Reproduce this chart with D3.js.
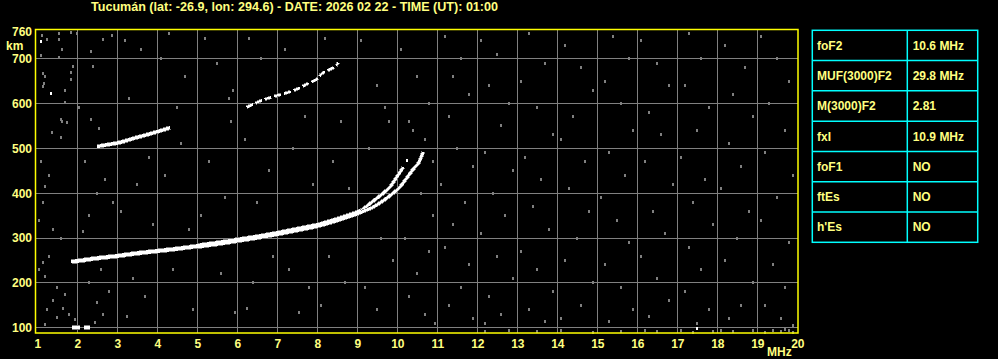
<!DOCTYPE html>
<html>
<head>
<meta charset="utf-8">
<script src="https://cdn.jsdelivr.net/npm/d3@7"></script>
<style>
  body { margin: 0; background: #000; }
  svg { display: block; font-family: "Liberation Sans", Arial, sans-serif; font-weight: bold; }
</style>
</head>
<body>
<svg id="chart" width="998" height="359"></svg>
<script>
// ---- data ----
var title = "Tucumán (lat: -26.9, lon: 294.6) - DATE: 2026 02 22 - TIME (UT): 01:00";
var freqTicks = d3.range(1, 21);
var heightTicks = [100, 200, 300, 400, 500, 600, 700, 760];

var paramNames = ["foF2", "MUF(3000)F2", "M(3000)F2", "fxI", "foF1", "ftEs", "h'Es"];
var paramValues = ["10.6 MHz", "29.8 MHz", "2.81", "10.9 MHz", "NO", "NO", "NO"];

// [MHz, km]
var traceFlow = [[1.85,246],[2.1,249],[2.5,254],[3.0,259],[3.5,265],[4.0,270],[4.5,275],[5.0,281]];
var traceF = [[5.0,281],[5.5,287],[6.0,294],[6.5,301],[7.0,309],[7.5,318],[8.0,327],[8.5,340],
  [9.0,355],[9.2,363]];
var traceA = [[9.1,360],[9.32,376],[9.65,399],[9.82,413],[9.97,433],[10.15,457]];
var traceB = [[9.1,357],[9.4,368],[9.94,402],[10.07,413],[10.27,437],[10.44,457],[10.53,466],[10.65,491]];
var trace2Fa = [[2.49,503],[2.82,508],[3.07,512],[3.4,521],[3.73,529],[4.15,540],[4.32,545]];
var trace2Fb = [[6.23,590],[6.44,599],[6.65,607],[6.9,614],[7.32,625],[7.57,634],[7.78,644],
  [7.99,653],[8.11,665],[8.44,681],[8.53,690]];
var traceE1 = [[1.87,100],[2.07,100]];
var traceE2 = [[2.17,100],[2.32,100]];

var brightDots = [[1.08,739],[1.33,622],[17.49,98],[10.25,473]];

var noise = [
  [1.11,752],[1.23,743],[1.55,755],[1.55,743],[1.63,720],[1.84,759],[1.08,707],[1.55,702],[1.89,683],
  [1.13,666],[1.18,660],[1.84,670],[1.84,653],[1.17,644],[1.13,638],[1.68,629],[1.68,603],[1.59,564],
  [1.63,560],[1.73,557],[1.38,536],[1.59,524],[1.1,470],[1.3,440],[1.2,415],[1.15,380],[1.05,340],
  [1.4,320],[1.6,300],[1.3,260],[1.15,245],[1.05,230],[1.2,215],[1.5,190],[1.7,175],[1.4,160],
  [1.25,140],[1.8,130],[1.49,123],[1.2,107],[1.64,143],[1.95,118],
  [2.0,756],[2.05,590],[2.33,716],[2.65,743],[2.88,752],[2.38,683],[2.33,564],[2.54,545],[2.2,470],
  [2.7,430],[2.5,400],[2.9,380],[2.3,350],[2.15,315],[2.6,230],[2.3,200],[2.8,180],[2.49,156],
  [2.64,130],[2.45,111],
  [3.2,740],[3.6,720],[3.3,610],[3.8,480],[3.5,420],[3.1,360],[3.9,330],[3.4,210],[3.7,170],[3.25,125],
  [4.3,755],[4.1,700],[4.7,660],[4.5,590],[4.6,510],[4.2,440],[4.8,320],[4.4,230],[4.9,140],
  [5.2,745],[5.5,690],[5.9,630],[5.8,610],[5.85,560],[5.3,470],[5.7,390],[5.1,350],[5.6,220],[5.95,133],
  [6.3,745],[6.6,700],[6.2,520],[6.8,450],[6.5,380],[6.9,260],[6.4,200],[6.25,143],
  [7.2,720],[7.7,570],[7.4,500],[7.9,420],[7.3,230],[7.53,133],[7.8,190],
  [8.2,745],[8.6,560],[8.4,470],[8.8,410],[8.3,260],[8.7,200],[8.1,150],
  [9.1,740],[9.5,640],[9.7,590],[9.8,560],[9.3,500],[9.6,300],[9.9,250],[9.2,190],[9.5,140],
  [10.1,720],[10.5,660],[10.8,600],[10.3,560],[10.4,540],[10.7,520],[10.9,470],[10.6,400],[10.9,350],
  [10.2,300],[10.8,270],[10.5,220],[10.3,170],[10.7,130],[10.95,110],
  [11.2,750],[11.6,700],[11.4,660],[11.8,620],[11.3,570],[11.5,500],[11.9,460],[11.1,420],[11.7,380],
  [11.4,330],[11.2,280],[11.8,240],[11.6,190],[11.3,150],[11.9,120],
  [12.1,740],[12.5,710],[12.3,640],[12.8,600],[12.6,550],[12.2,490],[12.9,450],[12.4,400],[12.7,350],
  [12.1,310],[12.5,260],[12.9,210],[12.3,170],[12.6,130],[12.2,110],
  [13.3,755],[13.7,690],[13.1,650],[13.5,590],[13.9,530],[13.2,480],[13.6,430],[13.4,370],[13.8,320],
  [13.1,270],[13.5,230],[13.9,180],[13.3,140],[13.7,115],
  [14.2,730],[14.6,680],[14.9,630],[14.4,570],[14.1,520],[14.7,470],[14.3,410],[14.8,360],[14.5,300],
  [14.2,250],[14.9,200],[14.6,150],[14.1,120],
  [15.4,750],[15.8,700],[15.2,650],[15.6,600],[15.9,540],[15.3,490],[15.7,440],[15.1,390],[15.5,340],
  [15.8,290],[15.2,240],[15.6,190],[15.9,140],[15.3,115],
  [16.1,740],[16.5,690],[16.8,640],[16.3,580],[16.6,530],[16.2,470],[16.9,420],[16.4,360],[16.7,310],
  [16.1,260],[16.5,210],[16.8,160],[16.3,125],
  [17.3,755],[17.6,700],[17.2,640],[17.8,590],[17.5,540],[17.1,480],[17.7,430],[17.4,380],[17.9,330],
  [17.3,280],[17.6,230],[17.2,180],[17.8,140],[17.5,110],
  [18.2,730],[18.7,680],[18.4,620],[18.9,570],[18.3,510],[18.6,460],[18.1,410],[18.8,360],[18.5,300],
  [18.2,250],[18.9,200],[18.6,150],[18.3,120],
  [19.1,750],[19.5,700],[19.8,650],[19.3,600],[19.7,540],[19.2,490],[19.9,440],[19.5,390],[19.1,340],
  [19.8,290],[19.4,240],[19.7,190],[19.2,150],[19.6,120],[19.9,105],
  // bottom strip
  [12.2,92],[12.8,94],[13.5,91],[14.1,93],[14.9,90],[15.6,92],[16.2,94],[16.5,91],[17.1,93],[17.4,90],
  [17.9,92],[18.1,95],[18.4,91],[18.9,93],[19.2,90],[19.4,94],[19.6,91],[19.7,96],[19.8,93],[19.9,90]
];

// ---- layout ----
var svg = d3.select("#chart");
var yellow = "#ffff00", paleYellow = "#ffff80", grey = "#808080", cyan = "#00ffff";

var x = d3.scaleLinear().domain([1, 20]).range([37.3, 797.3]);
var y = d3.scaleLinear().domain([100, 700]).range([327.3, 58.1]);
var plotTop = 29.5, plotBottom = 333;

svg.append("text")
    .attr("x", 91).attr("y", 11)
    .attr("fill", paleYellow)
    .attr("font-size", 12)
    .attr("textLength", 407)
    .attr("lengthAdjust", "spacingAndGlyphs")
    .text(title);

// grid
var grid = svg.append("g").attr("shape-rendering", "crispEdges");
grid.selectAll(".vg")
    .data(freqTicks.slice(1, -1))
  .enter().append("line")
    .attr("x1", function(d) { return Math.round(x(d)) + 0.5; })
    .attr("x2", function(d) { return Math.round(x(d)) + 0.5; })
    .attr("y1", plotTop).attr("y2", plotBottom)
    .attr("stroke", grey);
grid.selectAll(".hg")
    .data(heightTicks.filter(function(d) { return d <= 700; }))
  .enter().append("line")
    .attr("y1", function(d) { return Math.round(y(d)) + 0.5; })
    .attr("y2", function(d) { return Math.round(y(d)) + 0.5; })
    .attr("x1", 36).attr("x2", 798)
    .attr("stroke", grey);

// noise dots
svg.append("g").attr("shape-rendering", "crispEdges")
  .selectAll("rect")
    .data(noise)
  .enter().append("rect")
    .attr("x", function(d) { return Math.round(x(d[0])) - 1; })
    .attr("y", function(d) { return Math.round(y(d[1])) - 1; })
    .attr("width", 2).attr("height", 3)
    .attr("fill", grey);

svg.append("g").attr("shape-rendering", "crispEdges")
  .selectAll("rect")
    .data(brightDots)
  .enter().append("rect")
    .attr("x", function(d) { return Math.round(x(d[0])) - 1; })
    .attr("y", function(d) { return Math.round(y(d[1])) - 1; })
    .attr("width", 2).attr("height", 3)
    .attr("fill", "#fff");

// echo traces
var line = d3.line()
    .x(function(d) { return x(d[0]); })
    .y(function(d) { return y(d[1]); })
    .curve(d3.curveCatmullRom);

var traces = [
  {pts: traceFlow, w: 3.5},
  {pts: traceF, w: 4.5},
  {pts: traceA, w: 2.5},
  {pts: traceB, w: 2.5},
  {pts: trace2Fa, w: 3},
  {pts: trace2Fb, w: 2, dash: "7,3"},
  {pts: traceE1, w: 3},
  {pts: traceE2, w: 3}
];
traces.forEach(function(t) {
  svg.append("path").attr("d", line(t.pts))
      .attr("fill", "none").attr("stroke", grey)
      .attr("stroke-width", t.w + 1.5)
      .attr("stroke-dasharray", t.dash || null)
      .attr("shape-rendering", "crispEdges");
  svg.append("path").attr("d", line(t.pts))
      .attr("fill", "none").attr("stroke", "#fff")
      .attr("stroke-width", t.w)
      .attr("stroke-dasharray", t.dash || null)
      .attr("shape-rendering", "crispEdges");
});

// frame
svg.append("rect")
    .attr("x", 35.5).attr("y", plotTop)
    .attr("width", 798 - 35.5).attr("height", plotBottom - plotTop)
    .attr("fill", "none").attr("stroke", yellow).attr("stroke-width", 1.5);

// axes (labels only)
var yAxis = svg.append("g")
    .attr("transform", "translate(32,0)")
    .call(d3.axisLeft(y).tickValues(heightTicks).tickSize(0).tickPadding(0));
yAxis.select(".domain").remove();
yAxis.attr("font-family", null).attr("font-size", null);
yAxis.selectAll("text")
    .attr("fill", paleYellow).attr("font-size", 12)
    .attr("dy", "0.36em");

var xAxis = svg.append("g")
    .attr("transform", "translate(0,339)")
    .call(d3.axisBottom(x).tickValues(freqTicks).tickSize(0).tickPadding(0)
      .tickFormat(d3.format("d")));
xAxis.select(".domain").remove();
xAxis.attr("font-family", null).attr("font-size", null);
xAxis.selectAll("text")
    .attr("fill", paleYellow).attr("font-size", 12)
    .attr("dy", "0.71em");

svg.append("text").attr("x", 6).attr("y", 49.5)
    .attr("fill", paleYellow).attr("font-size", 12).text("km");
svg.append("text").attr("x", 767).attr("y", 356)
    .attr("fill", paleYellow).attr("font-size", 12).text("MHz");

// parameter table
var colX = [812.3, 907.3, 977.7];
var rowY = d3.scaleLinear().domain([0, paramNames.length]).range([30.3, 242.3]);
var table = svg.append("g");
table.append("rect")
    .attr("x", colX[0]).attr("y", rowY(0))
    .attr("width", colX[2] - colX[0]).attr("height", rowY(paramNames.length) - rowY(0))
    .attr("fill", "none").attr("stroke", cyan).attr("stroke-width", 1.5);
table.append("line")
    .attr("x1", colX[1]).attr("x2", colX[1])
    .attr("y1", rowY(0)).attr("y2", rowY(paramNames.length))
    .attr("stroke", cyan).attr("stroke-width", 1.5);
table.selectAll(".row")
    .data(d3.range(1, paramNames.length))
  .enter().append("line")
    .attr("x1", colX[0]).attr("x2", colX[2])
    .attr("y1", function(i) { return rowY(i); })
    .attr("y2", function(i) { return rowY(i); })
    .attr("stroke", cyan).attr("stroke-width", 1.5);
table.selectAll(".pname")
    .data(paramNames)
  .enter().append("text")
    .attr("x", 817)
    .attr("y", function(d, i) { return (rowY(i) + rowY(i + 1)) / 2; })
    .attr("dy", "0.36em")
    .attr("fill", paleYellow).attr("font-size", 12)
    .text(function(d) { return d; });
table.selectAll(".pval")
    .data(paramValues)
  .enter().append("text")
    .attr("x", 912.7)
    .attr("y", function(d, i) { return (rowY(i) + rowY(i + 1)) / 2; })
    .attr("dy", "0.36em")
    .attr("fill", paleYellow).attr("font-size", 12)
    .text(function(d) { return d; });
</script>
</body>
</html>
